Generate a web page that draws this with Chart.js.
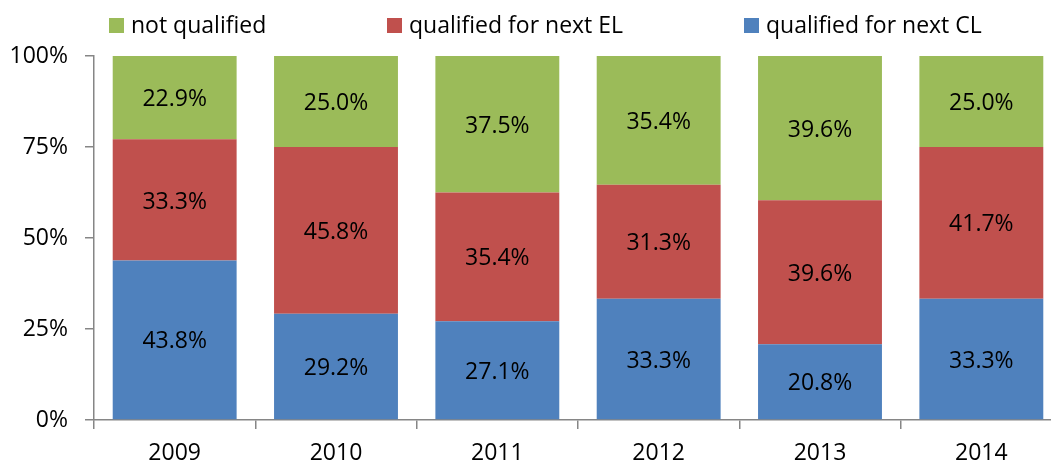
<!DOCTYPE html>
<html>
<head>
<meta charset="utf-8">
<script src="https://cdn.jsdelivr.net/npm/chart.js@4.4.1/dist/chart.umd.min.js"></script>
<style>
html,body{margin:0;padding:0;background:#fff;overflow:hidden;width:1051px;height:464px;}
canvas{display:block;}
</style>
</head>
<body>
<canvas id="c" width="1070" height="464"></canvas>
<script>
const categories = ['2009','2010','2011','2012','2013','2014'];
const qualifiedCL = [43.8, 29.2, 27.1, 33.3, 20.8, 33.3];
const qualifiedEL = [33.3, 45.8, 35.4, 31.3, 39.6, 41.7];
const notQualified = [22.9, 25.0, 37.5, 35.4, 39.6, 25.0];
const yTicks = [0, 25, 50, 75, 100];
const seriesNames = ['qualified for next CL', 'qualified for next EL', 'not qualified'];
const colors = ['#4F81BD', '#C0504D', '#9BBB59'];

const FONT = '"Open Sans", "Noto Sans", sans-serif';
const AXIS = '#868686';

const barLabels = {
  id: 'barLabels',
  afterDatasetsDraw(chart) {
    const ctx = chart.ctx;
    ctx.save();
    ctx.font = '23px ' + FONT;
    ctx.fillStyle = '#000';
    ctx.textAlign = 'center';
    ctx.textBaseline = 'middle';
    chart.data.datasets.forEach((ds, i) => {
      const meta = chart.getDatasetMeta(i);
      meta.data.forEach((bar, j) => {
        const p = bar.getProps(['x', 'y', 'base'], true);
        ctx.fillText(ds.data[j].toFixed(1) + '%', p.x, (p.y + p.base) / 2 + 2);
      });
    });
    ctx.restore();
  }
};

const topLegend = {
  id: 'topLegend',
  afterDraw(chart) {
    const ctx = chart.ctx;
    const items = [
      {idx: 2, x: 109},
      {idx: 1, x: 387},
      {idx: 0, x: 744}
    ];
    ctx.save();
    ctx.font = '23px ' + FONT;
    ctx.textBaseline = 'middle';
    ctx.textAlign = 'left';
    items.forEach(it => {
      const ds = chart.data.datasets[it.idx];
      ctx.fillStyle = ds.backgroundColor;
      ctx.fillRect(it.x, 18, 15, 15);
      ctx.fillStyle = '#000';
      ctx.fillText(ds.label, it.x + 22, 26);
    });
    ctx.restore();
  }
};

new Chart(document.getElementById('c'), {
  type: 'bar',
  data: {
    labels: categories,
    datasets: [
      {label: seriesNames[0], data: qualifiedCL, backgroundColor: colors[0]},
      {label: seriesNames[1], data: qualifiedEL, backgroundColor: colors[1]},
      {label: seriesNames[2], data: notQualified, backgroundColor: colors[2]}
    ]
  },
  options: {
    responsive: false,
    animation: false,
    devicePixelRatio: 1,
    categoryPercentage: 1,
    barPercentage: 0.768,
    layout: {padding: {top: 56, right: 8, left: 0, bottom: 0}},
    plugins: {legend: {display: false}, tooltip: {enabled: false}},
    scales: {
      x: {
        stacked: true,
        offset: true,
        grid: {offset: true, drawOnChartArea: false, tickLength: 9, color: AXIS, lineWidth: 1.5},
        border: {color: AXIS, width: 1.5},
        ticks: {color: '#000', font: {family: FONT, size: 23}, padding: 11, maxRotation: 0},
        afterFit(s) { s.height = 44; }
      },
      y: {
        stacked: true,
        min: 0,
        max: 100,
        afterBuildTicks(s) { s.ticks = yTicks.map(v => ({value: v})); },
        grid: {drawOnChartArea: false, tickLength: 9, color: AXIS, lineWidth: 1.5},
        border: {color: AXIS, width: 1.5},
        ticks: {color: '#000', font: {family: FONT, size: 23}, padding: 17, callback: v => v + '%'},
        afterFit(s) { s.width = 94; }
      }
    }
  },
  plugins: [barLabels, topLegend]
});
</script>
</body>
</html>
